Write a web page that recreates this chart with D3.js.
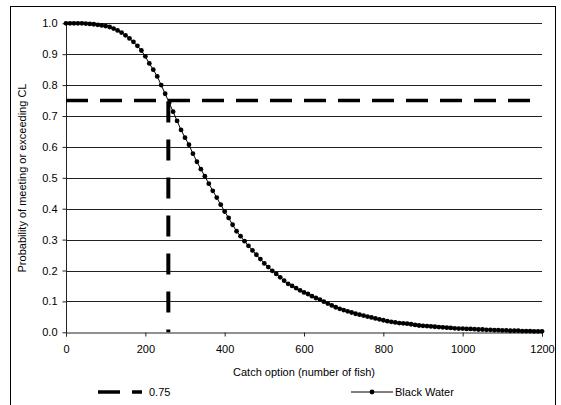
<!DOCTYPE html>
<html><head><meta charset="utf-8">
<script src="https://cdn.jsdelivr.net/npm/d3@7"></script>
<style>body{margin:0;background:#fff;} text{font-family:"Liberation Sans",Arial,sans-serif;}</style>
</head><body>
<svg id="c" width="561" height="405"></svg>
<script>
const catchOptions = d3.range(0, 1201, 10);
const blackWater = [
1.000,1.000,1.000,1.000,1.000,0.999,0.998,0.997,0.995,0.993,
0.991,0.988,0.983,0.977,0.970,0.961,0.951,0.940,0.927,0.912,
0.893,0.870,0.850,0.828,0.800,0.772,0.743,0.714,0.684,0.655,
0.630,0.607,0.578,0.552,0.528,0.505,0.481,0.458,0.436,0.413,
0.391,0.370,0.348,0.327,0.311,0.295,0.280,0.265,0.251,0.237,
0.223,0.211,0.199,0.189,0.178,0.167,0.157,0.150,0.143,0.136,
0.129,0.124,0.117,0.111,0.106,0.099,0.093,0.087,0.081,0.076,
0.072,0.068,0.064,0.060,0.057,0.054,0.051,0.048,0.045,0.042,
0.039,0.036,0.034,0.032,0.030,0.029,0.028,0.026,0.024,0.022,
0.021,0.020,0.019,0.018,0.017,0.016,0.015,0.014,0.013,0.012,
0.012,0.011,0.011,0.010,0.009,0.009,0.008,0.008,0.007,0.007,
0.006,0.006,0.005,0.005,0.005,0.004,0.004,0.004,0.003,0.003,
0.003];
const clLevel = [0.75];
const clCatch = [258];
const xTicks = [0,200,400,600,800,1000,1200];
const yTicks = [0,0.1,0.2,0.3,0.4,0.5,0.6,0.7,0.8,0.9,1.0];
const seriesNames = ["0.75","Black Water"];

const svg = d3.select("#c");
const x = d3.scaleLinear().domain([0,1200]).range([66,542]);
const y = d3.scaleLinear().domain([0,1]).range([332.3,23.3]);

// outer border
svg.append("rect").attr("x",10.5).attr("y",6.5).attr("width",545).attr("height",420)
  .attr("fill","none").attr("stroke","#000").attr("stroke-width",1);

// gridlines
svg.append("g").selectAll("line").data(yTicks.filter(d=>d>0)).join("line")
  .attr("x1",x(0)).attr("x2",x(1200))
  .attr("y1",d=>Math.round(y(d))+0.5).attr("y2",d=>Math.round(y(d))+0.5)
  .attr("stroke","#222").attr("stroke-width",1);

// axes
const yAxis = d3.axisLeft(y).tickValues(yTicks).tickFormat(d3.format(".1f")).tickSize(4).tickPadding(5);
const gy = svg.append("g").attr("transform","translate(66.5,0)").call(yAxis);
const xAxis = d3.axisBottom(x).tickValues(xTicks).tickFormat(d3.format("d")).tickSize(4).tickPadding(9);
const gx = svg.append("g").attr("transform","translate(0,"+(Math.round(y(0))+0.5)+")").call(xAxis);
[gx,gy].forEach(g=>{
  g.select(".domain").attr("stroke","#222");
  g.selectAll(".tick line").attr("stroke","#222");
  g.selectAll("text").attr("font-size",11).attr("fill","#000").style("font-family","Liberation Sans, Arial, sans-serif");
});
gy.select(".domain").attr("d","M0,"+y(1)+"V"+(y(0)+0.5));

// threshold lines
svg.append("line").attr("x1",x(0)).attr("x2",x(1200)).attr("y1",y(clLevel[0])).attr("y2",y(clLevel[0]))
  .attr("stroke","#000").attr("stroke-width",3.5).attr("stroke-dasharray","22,12");
svg.append("line").attr("x1",x(clCatch[0])).attr("x2",x(clCatch[0])).attr("y1",y(clLevel[0])+1).attr("y2",y(0))
  .attr("stroke","#000").attr("stroke-width",4).attr("stroke-dasharray","21,17");

// series
const pts = catchOptions.map((c,i)=>[c,blackWater[i]]);
svg.append("path").datum(pts).attr("fill","none").attr("stroke","#000").attr("stroke-width",1)
  .attr("d",d3.line().x(d=>x(d[0])).y(d=>y(d[1])));
svg.append("g").selectAll("circle").data(pts).join("circle")
  .attr("cx",d=>x(d[0])).attr("cy",d=>y(d[1])).attr("r",2.4).attr("fill","#000");

// axis titles
svg.append("text").attr("x",304).attr("y",376).attr("text-anchor","middle").attr("font-size",11).text("Catch option (number of fish)");
svg.append("text").attr("transform","translate(26,178) rotate(-90)").attr("text-anchor","middle").attr("font-size",11)
  .text("Probability of meeting or exceeding CL");

// legend
svg.append("line").attr("x1",98).attr("x2",142).attr("y1",392).attr("y2",392)
  .attr("stroke","#000").attr("stroke-width",3.5).attr("stroke-dasharray","22,12");
svg.append("text").attr("x",149).attr("y",396).attr("font-size",11).text(seriesNames[0]);
svg.append("line").attr("x1",351).attr("x2",393).attr("y1",392).attr("y2",392).attr("stroke","#000").attr("stroke-width",1);
svg.append("circle").attr("cx",372).attr("cy",392).attr("r",2.4).attr("fill","#000");
svg.append("text").attr("x",395).attr("y",396).attr("font-size",11).text(seriesNames[1]);
</script>
</body></html>
